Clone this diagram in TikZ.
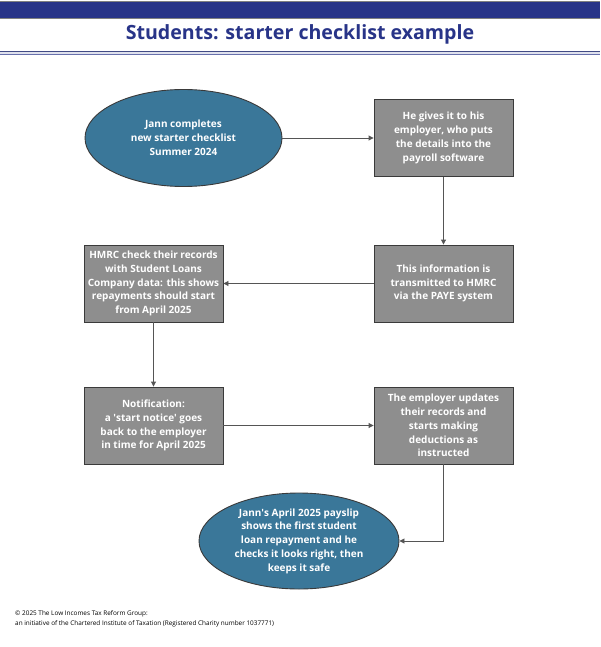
\documentclass[tikz,border=0pt]{standalone}
\usepackage{fontspec}
\setmainfont{Open Sans}
\usetikzlibrary{shapes.geometric,arrows.meta}
\definecolor{navy}{HTML}{283488}
\definecolor{ellfill}{HTML}{3A7799}
\definecolor{boxfill}{HTML}{8E8E8E}
\definecolor{edge}{HTML}{3A3A3A}
\definecolor{linec}{HTML}{555555}
\begin{document}
\begin{tikzpicture}[x=1pt,y=-1pt,
  stepbox/.style={rectangle,draw=edge,line width=0.9pt,fill=boxfill,minimum width=139pt,minimum height=77pt,inner sep=0pt,text=white,font=\bfseries\fontsize{10}{13.8}\selectfont,align=center},
  oval/.style={ellipse,draw=edge,line width=0.9pt,fill=ellfill,inner sep=0pt,text=white,font=\bfseries\fontsize{10}{13.8}\selectfont,align=center},
  conn/.style={draw=linec,line width=0.9pt,-{Triangle[length=5pt,width=5pt]}}]
\useasboundingbox (0,0) rectangle (600,647);
% header
\fill[white] (0,0) rectangle (600,647);
\fill[navy] (0,1.5) rectangle (600,18.5);
\draw[gray,line width=0.8pt] (0,1.5) -- (600,1.5);
\draw[gray,line width=0.8pt] (0,18.5) -- (600,18.5);
\node[font=\bfseries\fontsize{19.6}{22}\selectfont,text=navy] (title) at (300,34) {Students: starter checklist example};
\fill[navy!15] (0,51.5) rectangle (600,54.5);
\draw[navy!70!gray,line width=0.8pt] (0,51.5) -- (600,51.5);
\draw[navy!70,line width=0.8pt] (0,54.5) -- (600,54.5);
% nodes
\node[oval,minimum width=197pt,minimum height=97pt] (e1) at (183.5,138) {Jann completes\\new starter checklist\\Summer 2024};
\node[stepbox] (b1) at (443.5,138) {He gives it to his\\employer, who puts\\the details into the\\payroll software};
\node[stepbox] (b2) at (443.5,283.5) {This information is\\transmitted to HMRC\\via the PAYE system};
\node[stepbox] (b3) at (153.5,283.5) {HMRC check their records\\with Student Loans\\Company data: this shows\\repayments should start\\from April 2025};
\node[stepbox] (b4) at (153.5,425.5) {Notification:\\a \textquotesingle start notice\textquotesingle{} goes\\back to the employer\\in time for April 2025};
\node[stepbox] (b5) at (443.5,425.5) {The employer updates\\their records and\\starts making\\deductions as\\instructed};
\node[oval,minimum width=200pt,minimum height=96pt] (e2) at (299,541) {Jann\textquotesingle s April 2025 payslip\\shows the first student\\loan repayment and he\\checks it looks right, then\\keeps it safe};
% connectors
\draw[conn] (e1.east) -- (b1.west);
\draw[conn] (b1.south) -- (b2.north);
\draw[conn] (b2.west) -- (b3.east);
\draw[conn] (b3.south) -- (b4.north);
\draw[conn] (b4.east) -- (b5.west);
\draw[conn] (b5.south) |- (e2.east);
% footer
\node[anchor=west,font=\fontsize{6.4}{10}\selectfont,align=left,inner sep=0pt] (foot) at (15,619) {© 2025 The Low Incomes Tax Reform Group:\\an initiative of the Chartered Institute of Taxation (Registered Charity number 1037771)};
\end{tikzpicture}
\end{document}
